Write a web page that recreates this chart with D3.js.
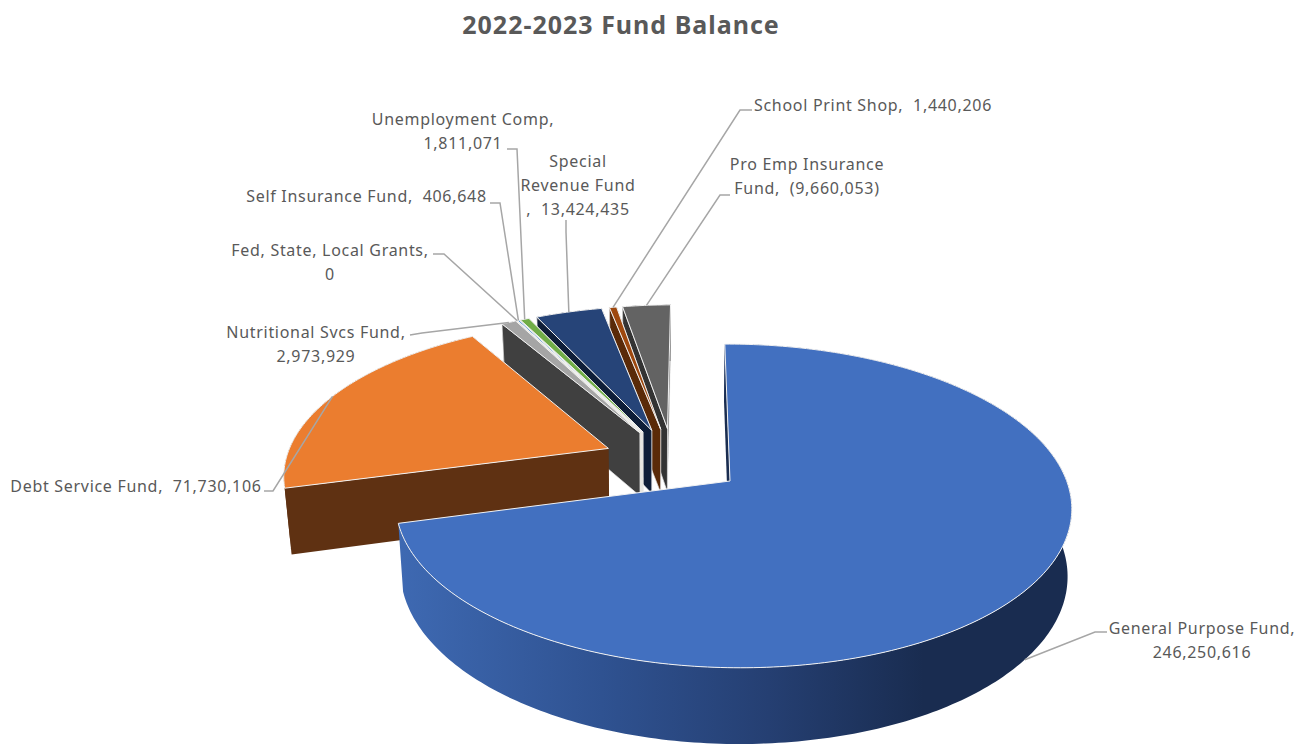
<!DOCTYPE html>
<html>
<head>
<meta charset="utf-8">
<title>2022-2023 Fund Balance</title>
<script src="https://cdn.jsdelivr.net/npm/d3@7/dist/d3.min.js"></script>
<style>
  html, body { margin: 0; padding: 0; background: #fff; }
  svg { display: block; }
  text { font-family: "Noto Sans", "Open Sans", sans-serif; fill: #595959; white-space: pre; }
</style>
</head>
<body>
<svg id="chart" width="1296" height="744"></svg>
<script>
// Fund balances; the pie sizes each wedge by the magnitude of its balance.
const funds = ["General Purpose Fund", "Debt Service Fund", "Nutritional Svcs Fund",
  "Fed, State, Local Grants", "Self Insurance Fund", "Unemployment Comp",
  "Special Revenue Fund", "School Print Shop", "Pro Emp Insurance Fund"];
const balances = [246250616, 71730106, 2973929, 0, 406648, 1811071, 13424435, 1440206, -9660053];
const topColors = ["#4270C0", "#EB7D2F", "#A5A5A5", "#FFC000", "#5B9BD5", "#70AD47", "#264478", "#9E480E", "#636363"];
const wallColors = ["#1a2d50", "#5f3112", "#404040", "#e6e3d6", "#e6e3d6", "#e6e3d6", "#0f1e38", "#5a2a08", "#333333"];

// Label text per fund: "{v}" is replaced with the formatted balance.
const labelLines = [
  ["General Purpose Fund,", "{v}"],
  ["Debt Service Fund,  {v}"],
  ["Nutritional Svcs Fund,", "{v}"],
  ["Fed, State, Local Grants,", "{v}"],
  ["Self Insurance Fund,  {v}"],
  ["Unemployment Comp,", "{v}"],
  ["Special", "Revenue Fund", ",  {v}"],
  ["School Print Shop,  {v}"],
  ["Pro Emp Insurance", "Fund,  {v}"]
];

const chartTitle = "2022-2023 Fund Balance";

// Label placement: centre x, first baseline y, and the leader's elbow points.
const labelSpots = [
  { x: 1202, y: 634, elbow: [[1107, 632], [1095, 632]], onWall: true },
  { x: 136, y: 492, elbow: [[264, 491], [273, 491]] },
  { x: 316, y: 338, elbow: [[410, 335], [422, 333]] },
  { x: 330, y: 256, elbow: [[433, 254], [444, 254]] },
  { x: 366.5, y: 202, elbow: [[490, 203], [500, 203]] },
  { x: 463, y: 125, elbow: [[507, 149], [517, 149]] },
  { x: 578, y: 167, elbow: [[566, 220], [566, 232]] },
  { x: 873, y: 111, elbow: [[752, 110], [740, 110]] },
  { x: 807, y: 170, elbow: [[730, 195], [720, 195]] }
];

const svg = d3.select("#chart");
const defs = svg.append("defs");
const sideFill = defs.append("linearGradient")
  .attr("id", "sideFill")
  .attr("gradientUnits", "userSpaceOnUse")
  .attr("x1", 400).attr("x2", 1071).attr("y1", 0).attr("y2", 0);
[[0, "#3e69b2"], [0.3, "#2f5291"], [0.55, "#253f72"], [0.78, "#192c50"], [1, "#192c50"]]
  .forEach(([o, c]) => sideFill.append("stop").attr("offset", o).attr("stop-color", c));

// Perspective view of the pie's top plane; disc coordinates have radius 1
// with Y growing toward the viewer.
const view = { cx: 730, cy: 481, a: 334, b: 158, k: 0.154, side: 0.008, shear: 6 };
function project([X, Y]) {
  const w = 1 - view.k * Y - view.side * X;
  return [view.cx + (view.a * X + view.shear * Y) / w, view.cy + view.b * Y / w];
}
// Each point drops to the bottom plane, nearer points dropping further;
// sides lean inward toward a vertical line, a little less on the right.
const base = { vx: 650, leanLeft: 0.019, leanRight: 0.01, drop: 63, growth: 0.055, ref: 427 };
function lower([x, y]) {
  const lean = x < base.vx ? base.leanLeft : base.leanRight;
  return [x + (base.vx - x) * lean, y + base.drop + (y - base.ref) * base.growth];
}

const explode = 0.217;
const pie = d3.pie().sort(null).value(i => Math.abs(balances[i]));
const arcs = pie(d3.range(funds.length));
const dir = t => [Math.sin(t), -Math.cos(t)];

// Every wedge is pushed out along its bisector from a shared centre,
// which sits so that the largest wedge's tip lands on the view centre.
const firstMid = dir((arcs[0].startAngle + arcs[0].endAngle) / 2);
const hub = [-explode * firstMid[0], -explode * firstMid[1]];

const wedges = arcs.map(a => {
  const mid = (a.startAngle + a.endAngle) / 2;
  const d = dir(mid);
  const tip = [hub[0] + explode * d[0], hub[1] + explode * d[1]];
  const steps = Math.max(2, Math.ceil((a.endAngle - a.startAngle) * 60));
  const rim = d3.range(steps + 1).map(i => {
    const t = a.startAngle + (a.endAngle - a.startAngle) * i / steps;
    const u = dir(t);
    return project([tip[0] + u[0], tip[1] + u[1]]);
  });
  return {
    i: a.index,
    tip: project(tip),
    rim,
    midRim: project([tip[0] + d[0], tip[1] + d[1]])
  };
});

const line = d3.line();
const closed = pts => line(pts) + "Z";
const plot = svg.append("g");

// Far wedges first, so nearer ones cover their walls; the largest goes last.
const paintOrder = d3.range(funds.length - 1, 0, -1).concat(0);
paintOrder.forEach(idx => {
  const w = wedges[idx];
  const g = plot.append("g");
  const lowRim = w.rim.map(lower);
  const lowTip = lower(w.tip);
  const first = w.rim[0], last = w.rim[w.rim.length - 1];
  // The thin wedges' sides carry a pale seam that separates them.
  const seam = idx >= 2 ? "#e8e8e8" : "none";
  // Radial sides; the largest wedge's far end never shows.
  if (idx !== 0) {
    g.append("path").attr("d", closed([w.tip, last, lower(last), lowTip]))
      .attr("fill", wallColors[idx]).attr("stroke", seam).attr("stroke-width", 0.7);
  }
  // Outer curved side.
  g.append("path")
    .attr("d", closed(w.rim.concat(lowRim.slice().reverse())))
    .attr("fill", idx === 0 ? "url(#sideFill)" : wallColors[idx]);
  g.append("path").attr("d", closed([w.tip, first, lower(first), lowTip]))
    .attr("fill", wallColors[idx]).attr("stroke", seam).attr("stroke-width", 0.7);
  // Top face with its thin pale outline.
  g.append("path")
    .attr("d", closed([w.tip].concat(w.rim)))
    .attr("fill", topColors[idx])
    .attr("stroke", "#f2f2f2")
    .attr("stroke-width", 1)
    .attr("stroke-linejoin", "round");
});

// Leaders run from the label to the middle of the wedge's rim.
const leaders = svg.append("g")
  .attr("fill", "none").attr("stroke", "#a6a6a6").attr("stroke-width", 1.5);
labelSpots.forEach((s, i) => {
  const w = wedges[i];
  const end = s.onWall ? lower(w.midRim) : w.midRim;
  leaders.append("path").attr("d", line(s.elbow.concat([end])));
});

// Labels, with negative balances shown in parentheses.
const money = d3.format("(,");
const labels = svg.append("g")
  .attr("font-size", 16)
  .attr("letter-spacing", 0.7)
  .attr("text-anchor", "middle");
labelSpots.forEach((s, i) => {
  const t = labels.append("text");
  labelLines[i].forEach((l, n) => {
    t.append("tspan")
      .attr("x", s.x)
      .attr("y", s.y + n * 24)
      .text(l.replace("{v}", money(balances[i])));
  });
});

svg.append("text")
  .attr("x", 621).attr("y", 34)
  .attr("text-anchor", "middle")
  .attr("font-size", 25)
  .attr("letter-spacing", 1)
  .attr("font-weight", 700)
  .text(chartTitle);
</script>
</body>
</html>
